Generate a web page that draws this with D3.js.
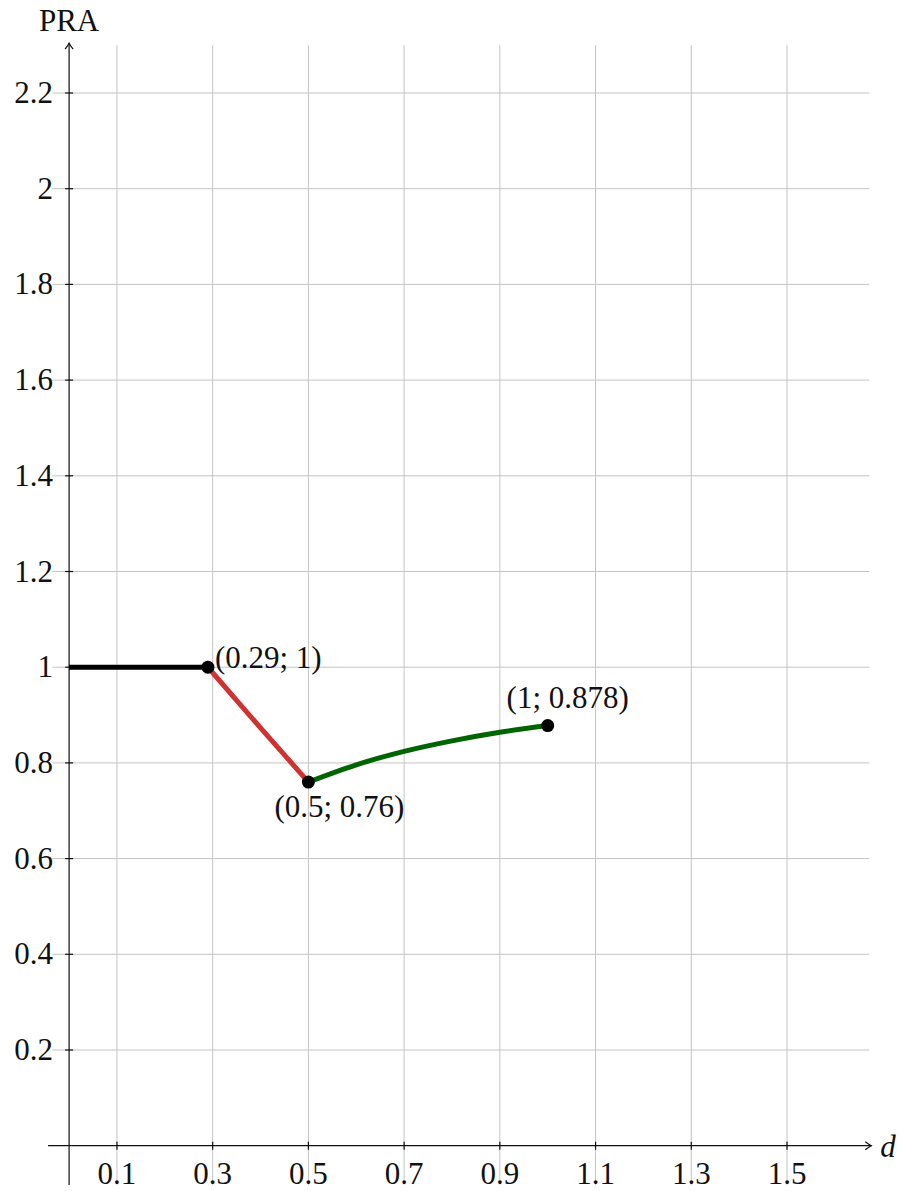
<!DOCTYPE html>
<html>
<head>
<meta charset="utf-8">
<script src="https://cdn.jsdelivr.net/npm/d3@7"></script>
<style>
  html, body { margin: 0; padding: 0; background: #fff; }
  svg text { font-family: "Liberation Serif", "DejaVu Serif", serif; fill: #111; }
</style>
</head>
<body>
<svg id="chart" width="901" height="1191"></svg>
<script>
// Piecewise PRA(d) curve: constant, falling segment, rising tail
const flatSegment = [[0, 1], [0.29, 1]];
const fallSegment = [[0.29, 1], [0.4, 0.873], [0.5, 0.76]];
const riseSegment = [[0.5, 0.76], [0.6, 0.796], [0.7, 0.824], [0.8, 0.846], [0.9, 0.864], [1, 0.878]];
const markedPoints = [[0.29, 1], [0.5, 0.76], [1, 0.878]];
const pointLabels = ["(0.29; 1)", "(0.5; 0.76)", "(1; 0.878)"];
const xTicks = [0.1, 0.3, 0.5, 0.7, 0.9, 1.1, 1.3, 1.5];
const yTicks = [0.2, 0.4, 0.6, 0.8, 1, 1.2, 1.4, 1.6, 1.8, 2, 2.2];

const svg = d3.select("#chart");

const x = d3.scaleLinear().domain([0, 1.5]).range([69.1, 787]);
const y = d3.scaleLinear().domain([0, 2.2]).range([1145.7, 93]);

const xMin = -0.044, xMax = 1.672;
const yMin = -0.082, yMax = 2.3;

const fontSize = 31;

function label(g, tx, ty, str, anchor, italic) {
  const t = g.append("text")
    .attr("x", tx).attr("y", ty)
    .attr("text-anchor", anchor)
    .attr("font-size", fontSize)
    .text(str);
  if (italic) t.attr("font-style", "italic");
  return t;
}

// grid
const grid = svg.append("g").attr("stroke", "#c4c4c4").attr("stroke-width", 1);
grid.selectAll("line.v").data(xTicks).join("line")
  .attr("x1", d => x(d)).attr("x2", d => x(d))
  .attr("y1", y(yMin)).attr("y2", y(yMax));
grid.selectAll("line.h").data(yTicks).join("line")
  .attr("x1", x(-0.035)).attr("x2", x(xMax))
  .attr("y1", d => y(d)).attr("y2", d => y(d));

// axes
const axes = svg.append("g").attr("stroke", "#111").attr("stroke-width", 1.2).attr("fill", "none");
axes.append("line").attr("x1", x(xMin)).attr("x2", x(xMax) + 2).attr("y1", y(0)).attr("y2", y(0));
axes.append("line").attr("x1", x(0)).attr("x2", x(0)).attr("y1", y(yMin)).attr("y2", y(yMax) - 2);
// arrow heads
const ax = x(xMax) + 2, ay = y(0);
axes.append("path").attr("d", `M${ax - 6},${ay - 4} Q${ax - 2},${ay - 1} ${ax},${ay} Q${ax - 2},${ay + 1} ${ax - 6},${ay + 4}`);
const bx = x(0), by = y(yMax) - 2;
axes.append("path").attr("d", `M${bx - 4},${by + 6} Q${bx - 1},${by + 2} ${bx},${by} Q${bx + 1},${by + 2} ${bx + 4},${by + 6}`);

// tick marks
axes.selectAll("line.xt").data(xTicks).join("line")
  .attr("x1", d => x(d)).attr("x2", d => x(d))
  .attr("y1", y(0) - 4).attr("y2", y(0) + 4);
axes.selectAll("line.yt").data(yTicks).join("line")
  .attr("x1", x(0) - 4).attr("x2", x(0) + 4)
  .attr("y1", d => y(d)).attr("y2", d => y(d));

// tick labels
const labels = svg.append("g");
xTicks.forEach(d => label(labels, x(d), y(0) + 38, String(d), "middle"));
yTicks.forEach(d => label(labels, x(0) - 16, y(d) + 10, String(d), "end"));

// axis titles
label(labels, x(0), 31, "PRA", "middle");
label(labels, 888, y(0) + 11, "d", "middle", true);

// curve segments
const line = d3.line().x(d => x(d[0])).y(d => y(d[1]));
const curve = d3.line().x(d => x(d[0])).y(d => y(d[1])).curve(d3.curveMonotoneX);
svg.append("path").datum(flatSegment).attr("d", line)
  .attr("fill", "none").attr("stroke", "#000").attr("stroke-width", 5);
svg.append("path").datum(fallSegment).attr("d", curve)
  .attr("fill", "none").attr("stroke", "#d03232").attr("stroke-width", 5);
svg.append("path").datum(riseSegment).attr("d", curve)
  .attr("fill", "none").attr("stroke", "#006400").attr("stroke-width", 5);

// marked points
svg.selectAll("circle.pt").data(markedPoints).join("circle")
  .attr("cx", d => x(d[0])).attr("cy", d => y(d[1])).attr("r", 6.5).attr("fill", "#000");

// point labels
label(labels, x(0.29) + 7, y(1) + 1, pointLabels[0], "start");
label(labels, x(0.5) + 31, y(0.76) + 35, pointLabels[1], "middle");
label(labels, x(1) + 20, y(0.878) - 18, pointLabels[2], "middle");
</script>
</body>
</html>
